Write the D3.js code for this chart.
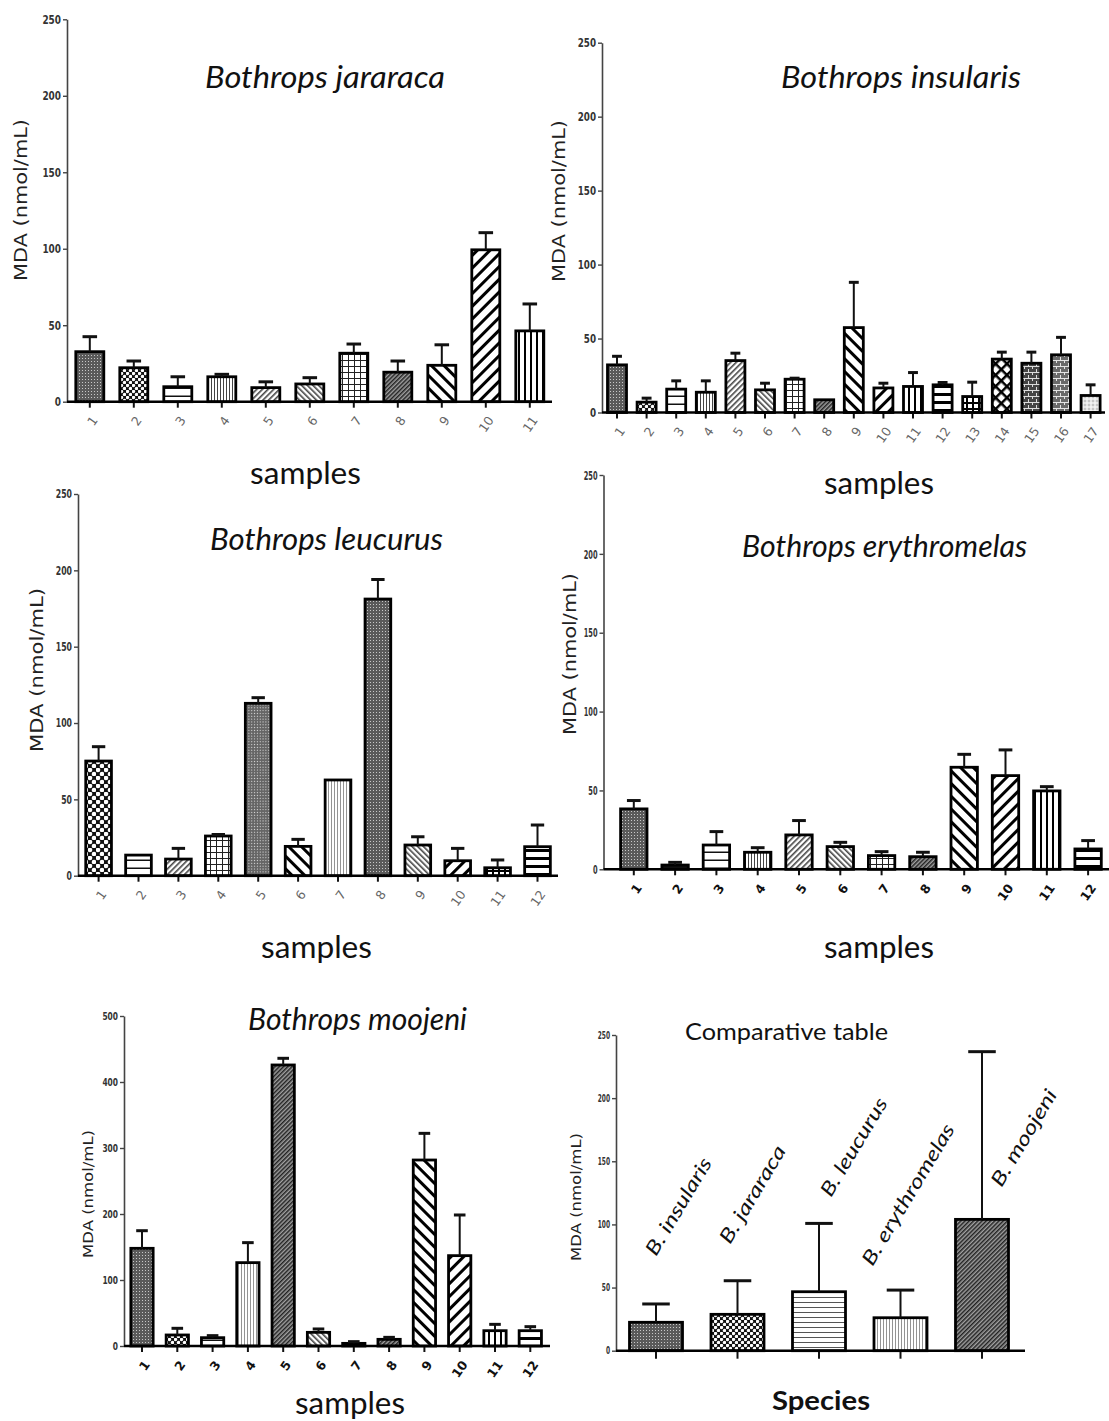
<!DOCTYPE html>
<html><head><meta charset="utf-8">
<script src="https://cdn.jsdelivr.net/npm/d3@7"></script>
<style>body{margin:0;background:#fff}svg{display:block}</style>
</head><body>
<script>
// ---------------- DATA ----------------
const jarCats = ["1","2","3","4","5","6","7","8","9","10","11"];
const jarMeans = [32.7,22.2,9.8,16.3,9.2,11.6,31.7,19.3,23.8,99.3,46.3];
const jarSD    = [9.8,4.4,6.5,1.6,3.8,4.1,6.0,7.3,13.4,11.2,17.6];

const insCats = ["1","2","3","4","5","6","7","8","9","10","11","12","13","14","15","16","17"];
const insMeans = [32.2,7.0,15.8,13.7,35.1,15.3,22.5,8.6,57.4,16.6,17.6,18.7,10.8,36.1,33.3,39.0,11.5];
const insSD    = [5.8,2.7,5.6,7.7,5.0,4.5,0.7,0,30.6,3.2,9.4,1.6,9.7,4.7,7.5,11.8,7.2];

const leuCats = ["1","2","3","4","5","6","7","8","9","10","11","12"];
const leuMeans = [75.1,13.5,10.9,26.0,112.9,19.2,62.7,181.2,20.1,9.8,5.2,19.0];
const leuSD    = [9.4,0,7.0,1.0,3.7,4.6,0,12.8,5.4,8.1,5.1,14.2];

const eryCats = ["1","2","3","4","5","6","7","8","9","10","11","12"];
const eryMeans = [38.3,2.7,15.4,10.8,21.8,14.4,8.7,8.0,64.7,59.4,49.7,12.9];
const erySD    = [5.3,1.7,8.5,2.9,9.1,2.7,2.5,2.8,8.2,16.3,2.7,5.3];

const mooCats = ["1","2","3","4","5","6","7","8","9","10","11","12"];
const mooMeans = [148.0,16.7,12.6,126.3,425.8,20.7,4.0,10.1,281.8,136.9,23.2,23.2];
const mooSD    = [26.7,10.1,3.1,30.3,10.1,5.1,2.6,3.0,40.4,61.6,9.6,6.1];

const cmpCats = ["B. insularis","B. jararaca","B. leucurus","B. erythromelas","B. moojeni"];
const cmpMeans = [22.5,28.8,46.7,26.1,104.0];
const cmpSD    = [14.5,26.6,54.1,21.9,132.8];

const ticks250 = [0,50,100,150,200,250];
const ticks500 = [0,100,200,300,400,500];

// fill patterns (style) per bar
const jarPat = ["densedark","checker","hsparse","vfine","diagFine","diagBackFine","grid","diagDark","diagBackWide","diagWide","vwide"];
const insPat = ["densedark","checker","hsparse","vfine","diagFine","diagBackFine","grid","diagDark","diagBackWide","diagWide","vwide","hwide","gridthick","lattice","bricks","bricks2","lightdots"];
const leuPat = ["checkerBig","hsparse","diagFine","grid","crossdark","diagBackWide","vlight","densedark","diagBackFine","diagWide","gridthick","hwide"];
const eryPat = ["densedark","black","hsparse","vfine","diagFine","diagBackFine","grid","diagDark","diagBackWide","diagWide","vwide","hwide"];
const mooPat = ["densedark","checker","hsparse","vlight","diagDark","diagBackFine","black","diagDark","diagBackWide","diagWide","vwide","hwide"];
const cmpPat = ["densedark","checker","hfine","vlight","diagDark"];

// ---------------- SVG ----------------
const W = 1109, H = 1421;
const svg = d3.select("body").append("svg").attr("width", W).attr("height", H);
svg.append("rect").attr("width", W).attr("height", H).attr("fill", "#fff");
const defs = svg.append("defs");

function pat(id, w, h, bg, draw, transform) {
  const p = defs.append("pattern").attr("id", id)
    .attr("patternUnits", "userSpaceOnUse").attr("width", w).attr("height", h);
  if (transform) p.attr("patternTransform", transform);
  p.append("rect").attr("width", w).attr("height", h).attr("fill", bg);
  draw(p);
}
pat("densedark", 3, 3, "#5a5a5a", p => p.append("rect").attr("x",1).attr("y",1).attr("width",1).attr("height",1).attr("fill","#c8c8c8"));
pat("crossdark", 4, 4, "#666", p => { p.append("rect").attr("width",1).attr("height",1).attr("fill","#ddd"); p.append("rect").attr("x",2).attr("y",2).attr("width",1).attr("height",1).attr("fill","#ddd"); }, "rotate(45)");
pat("checker", 6, 6, "#111", p => { p.append("circle").attr("cx",1.5).attr("cy",1.5).attr("r",1.7).attr("fill","#fff"); p.append("circle").attr("cx",4.5).attr("cy",4.5).attr("r",1.7).attr("fill","#fff"); });
pat("checkerBig", 8, 8, "#111", p => { p.append("circle").attr("cx",2).attr("cy",2).attr("r",2.3).attr("fill","#fff"); p.append("circle").attr("cx",6).attr("cy",6).attr("r",2.3).attr("fill","#fff"); });
pat("hsparse", 4, 8, "#fff", p => p.append("rect").attr("y",3.5).attr("width",4).attr("height",1.5).attr("fill","#111"));
pat("hfine", 4, 5, "#fff", p => p.append("rect").attr("y",2).attr("width",4).attr("height",1).attr("fill","#555"));
pat("hwide", 4, 8, "#fff", p => p.append("rect").attr("y",1).attr("width",4).attr("height",3).attr("fill","#000"));
pat("vfine", 3, 4, "#fff", p => p.append("rect").attr("x",1).attr("width",1).attr("height",4).attr("fill","#444"));
pat("vlight", 3, 4, "#fff", p => p.append("rect").attr("x",1).attr("width",0.9).attr("height",4).attr("fill","#888"));
pat("vwide", 6, 4, "#fff", p => p.append("rect").attr("x",2).attr("width",2).attr("height",4).attr("fill","#000"));
pat("diagFine", 4, 4, "#fff", p => p.append("rect").attr("width",1.6).attr("height",4).attr("fill","#444"), "rotate(45)");
pat("diagBackFine", 4, 4, "#fff", p => p.append("rect").attr("width",1.6).attr("height",4).attr("fill","#444"), "rotate(-45)");
pat("diagDark", 3, 3, "#a0a0a0", p => p.append("rect").attr("width",1.5).attr("height",3).attr("fill","#222"), "rotate(45)");
pat("diagWide", 9, 9, "#fff", p => p.append("rect").attr("width",3).attr("height",9).attr("fill","#000"), "rotate(45)");
pat("diagBackWide", 9, 9, "#fff", p => p.append("rect").attr("width",3).attr("height",9).attr("fill","#000"), "rotate(-45)");
pat("grid", 6, 6, "#fff", p => { p.append("rect").attr("width",1).attr("height",6).attr("fill","#222"); p.append("rect").attr("width",6).attr("height",1).attr("fill","#222"); });
pat("gridthick", 6, 6, "#fff", p => { p.append("rect").attr("width",2).attr("height",6).attr("fill","#000"); p.append("rect").attr("width",6).attr("height",2).attr("fill","#000"); });
pat("lattice", 8, 8, "#fff", p => { p.append("rect").attr("width",2.5).attr("height",8).attr("fill","#000"); p.append("rect").attr("width",8).attr("height",2.5).attr("fill","#000"); }, "rotate(45)");
pat("bricks", 8, 6, "#444", p => { p.append("rect").attr("width",8).attr("height",1).attr("fill","#ddd"); p.append("rect").attr("width",1).attr("height",3).attr("fill","#ddd"); p.append("rect").attr("x",4).attr("y",3).attr("width",1).attr("height",3).attr("fill","#ddd"); });
pat("bricks2", 8, 6, "#6a6a6a", p => { p.append("rect").attr("width",8).attr("height",1).attr("fill","#e5e5e5"); p.append("rect").attr("width",1).attr("height",3).attr("fill","#e5e5e5"); p.append("rect").attr("x",4).attr("y",3).attr("width",1).attr("height",3).attr("fill","#e5e5e5"); });
pat("lightdots", 4, 4, "#e6e6e6", p => { p.append("circle").attr("cx",1).attr("cy",1).attr("r",0.8).attr("fill","#999"); p.append("circle").attr("cx",3).attr("cy",3).attr("r",0.8).attr("fill","#fff"); });
pat("black", 4, 4, "#111", p => {});

function drawPanel(o) {
  const g = svg.append("g");
  const n = o.cats.length;
  const pad = 1 - o.barW / o.step;
  const x = d3.scaleBand().domain(o.cats)
    .range([o.c1 - o.step / 2, o.c1 - o.step / 2 + n * o.step])
    .paddingInner(pad).paddingOuter(pad / 2);
  const y = d3.scaleLinear().domain([0, o.yMax]).range([o.y0, o.yTop]);

  // bars
  const data = o.cats.map((c, i) => ({c, m: o.means[i], sd: o.sds[i], p: o.pats[i]}));
  g.selectAll("rect.bar").data(data).join("rect").attr("class", "bar")
    .attr("x", d => x(d.c)).attr("width", x.bandwidth())
    .attr("y", d => y(d.m)).attr("height", d => y(0) - y(d.m))
    .attr("fill", d => `url(#${d.p})`).attr("stroke", "#000").attr("stroke-width", o.barStroke || 2.8);
  // error bars
  const capW = x.bandwidth() * 0.52;
  const eb = g.selectAll("g.err").data(data.filter(d => d.sd > 0)).join("g").attr("class", "err");
  eb.append("line")
    .attr("x1", d => x(d.c) + x.bandwidth() / 2).attr("x2", d => x(d.c) + x.bandwidth() / 2)
    .attr("y1", d => y(d.m)).attr("y2", d => y(d.m + d.sd))
    .attr("stroke", "#111").attr("stroke-width", 2);
  eb.append("line")
    .attr("x1", d => x(d.c) + x.bandwidth() / 2 - capW / 2).attr("x2", d => x(d.c) + x.bandwidth() / 2 + capW / 2)
    .attr("y1", d => y(d.m + d.sd)).attr("y2", d => y(d.m + d.sd))
    .attr("stroke", "#111").attr("stroke-width", 3);

  // y axis
  const ya = g.append("g").attr("transform", `translate(${o.axisX},0)`)
    .call(d3.axisLeft(y).tickValues(o.yTicks).tickSize(4).tickSizeOuter(0).tickPadding(2).tickFormat(d3.format("d")));
  ya.select(".domain").attr("stroke", "#444").attr("stroke-width", 1.6);
  ya.selectAll(".tick line").attr("stroke", "#444").attr("stroke-width", 1.4);
  ya.selectAll(".tick text").attr("font-family", "'DejaVu Sans Condensed','Liberation Sans Narrow',sans-serif")
    .attr("font-weight", "bold").attr("font-size", o.yTickSize || 12).attr("fill", "#333")
    .attr("textLength", function() { return this.textContent.length * (o.yCharW || 6); })
    .attr("lengthAdjust", "spacingAndGlyphs");

  // x axis
  const xa = g.append("g").attr("transform", `translate(0,${o.y0})`)
    .call(d3.axisBottom(x).tickSize(o.xTickSize || 6).tickSizeOuter(0));
  xa.select(".domain").remove();
  xa.selectAll(".tick line").attr("stroke", "#111").attr("stroke-width", 2);
  if (o.noXLabels) {
    xa.selectAll(".tick text").remove();
  } else {
    xa.selectAll(".tick text")
      .attr("x", 0).attr("y", 0).attr("dy", "0.35em")
      .attr("text-anchor", "end")
      .attr("transform", "translate(5,16) rotate(-55)")
      .attr("font-family", "'DejaVu Sans',sans-serif")
      .attr("font-size", 12.5)
      .attr("font-weight", o.boldX ? "bold" : "normal")
      .attr("fill", o.boldX ? "#111" : "#666");
  }
  g.append("line").attr("x1", o.axisX).attr("x2", o.xEnd).attr("y1", o.y0).attr("y2", o.y0)
    .attr("stroke", "#000").attr("stroke-width", 2.5);
  return {x, y, g};
}

function label(txt, x, yb, w, size, opts = {}) {
  svg.append("text").attr("x", x).attr("y", yb).text(txt)
    .attr("font-family", "Lato, 'Open Sans', sans-serif")
    .attr("font-size", size)
    .attr("font-style", opts.italic ? "italic" : "normal")
    .attr("font-weight", opts.bold ? "bold" : "normal")
    .attr("fill", "#111")
    .attr("textLength", w).attr("lengthAdjust", "spacingAndGlyphs");
}
function ylabel(cx, cy, len, size) {
  svg.append("text").attr("transform", `translate(${cx},${cy}) rotate(-90)`)
    .attr("text-anchor", "middle").attr("dominant-baseline", "central")
    .attr("font-family", "'DejaVu Sans', Verdana, sans-serif").attr("font-size", size).attr("fill", "#222")
    .attr("textLength", len).attr("lengthAdjust", "spacingAndGlyphs")
    .text("MDA (nmol/mL)");
}

// Panel 1: B. jararaca
drawPanel({cats: jarCats, means: jarMeans, sds: jarSD, pats: jarPat, axisX: 67, y0: 401.7, yTop: 19.3, yMax: 250,
  yTicks: ticks250, c1: 89.8, step: 44, barW: 28, xEnd: 552, yCharW: 6.2});
label("Bothrops jararaca", 205, 88, 240, 31, {italic: true});
label("samples", 250, 484, 111, 30);
ylabel(20, 200, 162, 18);

// Panel 2: B. insularis
drawPanel({cats: insCats, means: insMeans, sds: insSD, pats: insPat, axisX: 602, y0: 412.5, yTop: 42.7, yMax: 250,
  yTicks: ticks250, c1: 617, step: 29.6, barW: 19, xEnd: 1105, yCharW: 6.1});
label("Bothrops insularis", 781, 88, 240, 31, {italic: true});
label("samples", 824, 494, 110, 30);
ylabel(558, 201, 162, 18);

// Panel 3: B. leucurus
drawPanel({cats: leuCats, means: leuMeans, sds: leuSD, pats: leuPat, axisX: 78, y0: 875.7, yTop: 494, yMax: 250,
  yTicks: ticks250, c1: 98.6, step: 39.9, barW: 25.7, xEnd: 558, yCharW: 5.4});
label("Bothrops leucurus", 210, 550, 233, 31, {italic: true});
label("samples", 261, 958, 111, 30);
ylabel(36.6, 670, 164, 18);

// Panel 4: B. erythromelas
drawPanel({cats: eryCats, means: eryMeans, sds: erySD, pats: eryPat, axisX: 603.5, y0: 869.3, yTop: 475, yMax: 250,
  yTicks: ticks250, c1: 633.8, step: 41.3, barW: 26.4, xEnd: 1109, boldX: true, yCharW: 4.6, yTickSize: 13});
label("Bothrops erythromelas", 742, 557, 285, 31, {italic: true});
label("samples", 824, 958, 110, 30);
ylabel(569, 654, 162, 18);

// Panel 5: B. moojeni
drawPanel({cats: mooCats, means: mooMeans, sds: mooSD, pats: mooPat, axisX: 124, y0: 1346, yTop: 1016, yMax: 500,
  yTicks: ticks500, c1: 142, step: 35.3, barW: 22.3, xEnd: 550, boldX: true, yCharW: 5.2, yTickSize: 11});
label("Bothrops moojeni", 248, 1030, 219, 31, {italic: true});
label("samples", 295, 1414, 110, 30);
ylabel(87.5, 1194, 128, 14);

// Panel 6: Comparative table
const p6 = drawPanel({cats: cmpCats, means: cmpMeans, sds: cmpSD, pats: cmpPat, axisX: 616, y0: 1350.7, yTop: 1035, yMax: 250,
  yTicks: ticks250, c1: 656, step: 81.5, barW: 53, xEnd: 1025, noXLabels: true, xTickSize: 8, barStroke: 2.8,
  yCharW: 4.1, yTickSize: 10});
label("Comparative table", 685, 1040, 203, 24);
label("Species", 772, 1410, 98, 26, {bold: true});
ylabel(576, 1197, 128, 14);
// rotated species labels above bars
const cmpLabelDx = [0, -7.5, 12, -28, 19.5];
const cmpLabelY  = [1257, 1245, 1198, 1267, 1188];
const cmpLabelLen = [110, 110, 111, 161, 109];
svg.append("g").selectAll("text").data(cmpCats).join("text")
  .attr("transform", (d, i) => `translate(${p6.x(d) + p6.x.bandwidth() / 2 + cmpLabelDx[i]},${cmpLabelY[i]}) rotate(-59)`)
  .attr("font-family", "Lato, 'Open Sans', sans-serif").attr("font-style", "italic").attr("font-size", 19.5)
  .attr("fill", "#111")
  .attr("textLength", (d, i) => cmpLabelLen[i]).attr("lengthAdjust", "spacingAndGlyphs")
  .text(d => d);
</script>
</body></html>
